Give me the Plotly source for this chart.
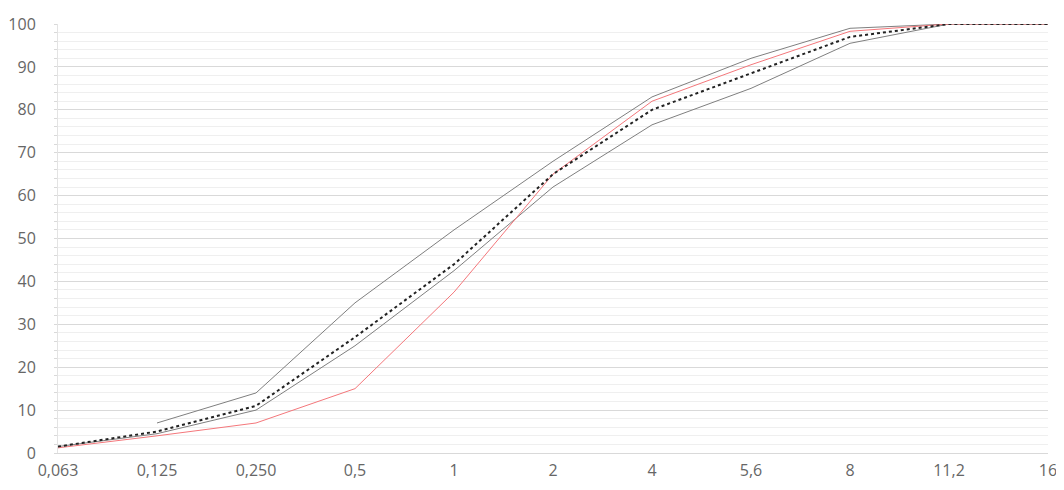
import plotly.graph_objects as go

sieves = ["0,063", "0,125", "0,250", "0,5", "1", "2", "4", "5,6", "8", "11,2", "16"]

upper_limit = [None, 7, 14, 35, 52, 68, 83, 92, 99, 100, 100]
lower_limit = [1.5, 4.5, 10, 25, 42.5, 62, 76.5, 85, 95.5, 100, 100]
mix_curve = [1.2, 4, 7, 15, 37.5, 65, 82, 90.5, 98.3, 100, 100]
target_curve = [1.5, 5, 11, 27, 44, 65, 80, 88.5, 97, 100, 100]

fig = go.Figure()
fig.add_trace(go.Scatter(x=sieves, y=upper_limit, mode="lines",
                         line=dict(color="#7f7f7f", width=1), connectgaps=False,
                         name="upper"))
fig.add_trace(go.Scatter(x=sieves, y=lower_limit, mode="lines",
                         line=dict(color="#7f7f7f", width=1), name="lower"))
fig.add_trace(go.Scatter(x=sieves, y=mix_curve, mode="lines",
                         line=dict(color="#f4777b", width=1), name="mix"))
fig.add_trace(go.Scatter(x=sieves, y=target_curve, mode="lines",
                         line=dict(color="#222222", width=2, dash="dot"), name="target"))

# the page body adds an 8px offset, so the figure is sized/margined to compensate
fig.update_layout(
    width=1056, height=482,
    margin=dict(l=50, r=16, t=16, b=37, autoexpand=False),
    paper_bgcolor="white", plot_bgcolor="white",
    showlegend=False,
    font=dict(family="Open Sans", size=16, color="#666666"),
)
fig.update_xaxes(
    type="category", range=[0, 10], showgrid=False, automargin=False,
    showline=True, linecolor="#d9d9d9", linewidth=1,
    ticks="", ticklabelstandoff=3,
)
fig.update_yaxes(
    range=[0, 100], dtick=10, showgrid=True, gridcolor="#d9d9d9", gridwidth=1,
    automargin=False,
    minor=dict(dtick=2, showgrid=True, gridcolor="#efefef", gridwidth=1,
               ticks="outside", ticklen=3, tickcolor="#d9d9d9"),
    showline=True, linecolor="#e3e3e3", linewidth=1,
    ticks="outside", ticklen=3, tickcolor="#d9d9d9",
    zeroline=False, ticklabelstandoff=15,
)

fig.write_html("out.html")
